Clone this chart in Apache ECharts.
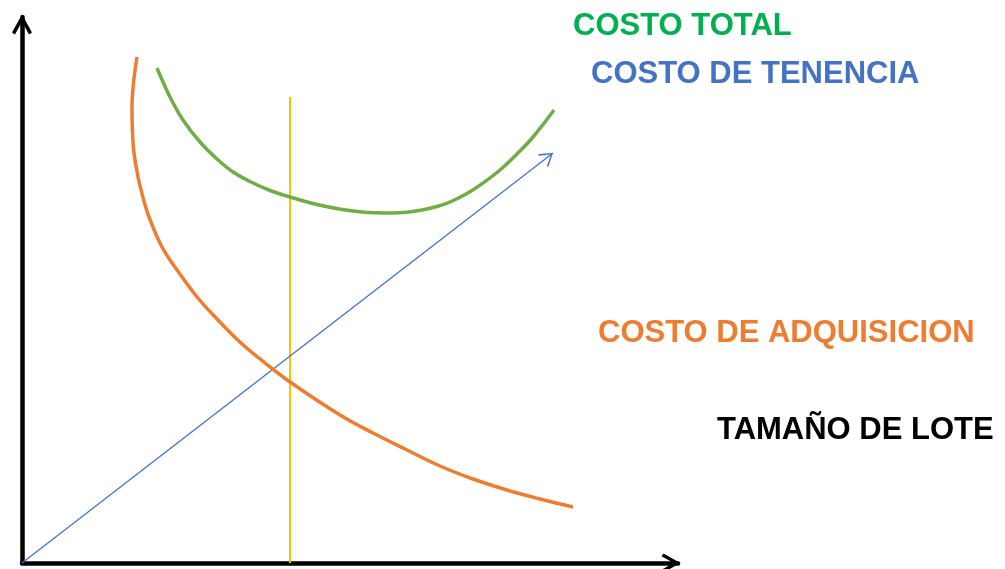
<!DOCTYPE html>
<html>
<head>
<meta charset="utf-8">
<script src="https://cdn.jsdelivr.net/npm/echarts@6/dist/echarts.min.js"></script>
<style>
html,body{margin:0;padding:0;background:#fff;}
#chart{width:1005px;height:569px;}
</style>
</head>
<body>
<div id="chart"></div>
<script>
// Values (arbitrary units: lot size vs cost)
const adquisicion = [[115,506],[111.5,480],[110,456],[110.5,430],[112,410],[116,386],[122.5,360],[127,346],[140,316],[155,293],[175,266],[196,243],[219,220],[243,200],[268,181],[318,148],[351,130],[385,113],[418,97],[451,84],[485,73],[518,64],[551,56]];
const total = [[135,495],[148,466],[161,443],[178,421],[195,404],[211,391],[228,381.5],[248,372.5],[268,366],[295,358.5],[320,353.5],[340,351],[355,350.2],[370,350],[385,350.8],[400,353],[415,356.5],[428,361],[445,369.5],[461,380],[478,393],[495,409],[511,426],[532,453]];
const tenencia = [[0,0],[531,410]];
const optimo = [[268,0],[268,466]];
const labels = {
  total: 'COSTO TOTAL',
  tenencia: 'COSTO DE TENENCIA',
  adquisicion: 'COSTO DE ADQUISICION',
  eje: 'TAMAÑO DE LOTE'
};

const chevronBold = 'path://M0 18 L10 0 L20 18 L17 20 L10 7 L3 20 Z';
const chevronThin = 'path://M0 13 L8 0 L16 13 L14.6 13.9 L8 2.6 L1.4 13.9 Z';
const font = '"Liberation Sans", Arial, sans-serif';

const chart = echarts.init(document.getElementById('chart'));
chart.setOption({
  animation: false,
  backgroundColor: '#ffffff',
  grid: {left: 22, right: 327, top: 17, bottom: 6},
  xAxis: {
    type: 'value', min: 0, max: 656,
    axisLine: {show: true, onZero: false, lineStyle: {color: '#000', width: 4.5},
      symbol: ['none', chevronBold], symbolSize: [19, 23], symbolOffset: [0, -7]},
    axisTick: {show: false}, axisLabel: {show: false}, splitLine: {show: false}
  },
  yAxis: {
    type: 'value', min: 0, max: 546,
    axisLine: {show: true, onZero: false, lineStyle: {color: '#000', width: 4.5},
      symbol: ['none', chevronBold], symbolSize: [21, 20], symbolOffset: [0, -7.5]},
    axisTick: {show: false}, axisLabel: {show: false}, splitLine: {show: false}
  },
  series: [
    {
      type: 'line', data: optimo, showSymbol: false, silent: true,
      lineStyle: {color: '#FFC000', width: 2}
    },
    {
      type: 'line', data: tenencia, showSymbol: false, silent: true,
      lineStyle: {color: '#4472C4', width: 1.3},
      markLine: {
        silent: true, symbol: ['none', chevronThin], symbolSize: [16, 13],
        symbolOffset: [[0, 0], [0, 6.5]],
        label: {show: false},
        lineStyle: {color: '#4472C4', width: 0.01, type: 'solid'},
        data: [[{coord: tenencia[0]}, {coord: tenencia[1]}]]
      }
    },
    {
      type: 'line', data: adquisicion, showSymbol: false, smooth: 0.4, silent: true,
      lineStyle: {color: '#ED7D31', width: 3.5}
    },
    {
      type: 'line', data: total, showSymbol: false, smooth: 0.4, silent: true,
      lineStyle: {color: '#70AD47', width: 3.5}
    }
  ],
  graphic: [
    {type: 'text', left: 573, top: 11, style: {text: labels.total, fill: '#00B050', font: 'bold 31px ' + font}},
    {type: 'text', left: 591, top: 59, style: {text: labels.tenencia, fill: '#4472C4', font: 'bold 31px ' + font}},
    {type: 'text', left: 598, top: 318, style: {text: labels.adquisicion, fill: '#ED7D31', font: 'bold 31px ' + font}},
    {type: 'text', left: 717, top: 415, style: {text: labels.eje, fill: '#000000', font: 'bold 31px ' + font}}
  ]
});
</script>
</body>
</html>
